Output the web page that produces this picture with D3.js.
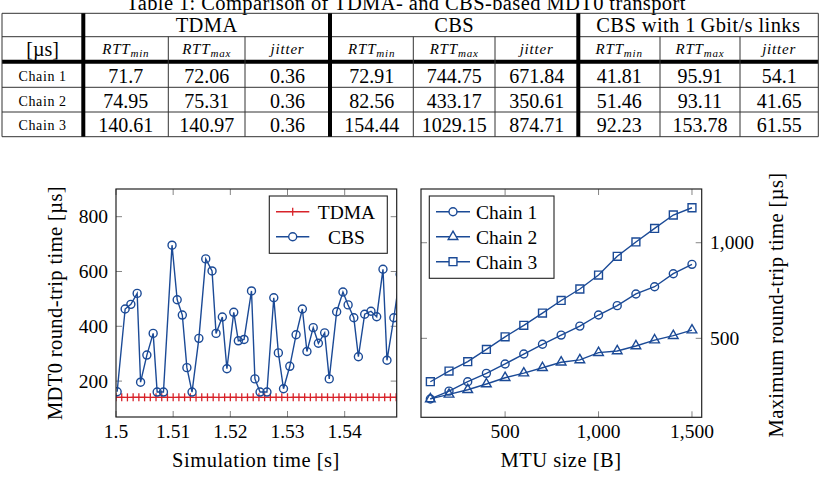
<!DOCTYPE html>
<html>
<head>
<meta charset="utf-8">
<script src="https://cdn.jsdelivr.net/npm/d3@7"></script>
<style>
  body { margin: 0; background: #fff; }
  svg { display: block; font-family: "Liberation Serif", "DejaVu Serif", serif; }
</style>
</head>
<body>
<script>
/* global d3 */
// table data
var tableTitle = "Table 1: Comparison of TDMA- and CBS-based MDT0 transport";
var tableGroups = ["TDMA", "CBS", "CBS with 1\u2009Gbit/s links"];
var tableMetrics = [["RTT", "min"], ["RTT", "max"], ["jitter", ""]];
var tableRows = ["Chain 1", "Chain 2", "Chain 3"];
var tdmaCells = [["71.7", "72.06", "0.36"], ["74.95", "75.31", "0.36"], ["140.61", "140.97", "0.36"]];
var cbsCells = [["72.91", "744.75", "671.84"], ["82.56", "433.17", "350.61"], ["154.44", "1029.15", "874.71"]];
var gbitCells = [["41.81", "95.91", "54.1"], ["51.46", "93.11", "41.65"], ["92.23", "153.78", "61.55"]];

// left plot: RTT over simulation time
var tdmaTime = [1.500, 1.501, 1.502, 1.503, 1.504, 1.505, 1.506, 1.507, 1.508, 1.509,
  1.510, 1.511, 1.512, 1.513, 1.514, 1.515, 1.516, 1.517, 1.518, 1.519,
  1.520, 1.521, 1.522, 1.523, 1.524, 1.525, 1.526, 1.527, 1.528, 1.529,
  1.530, 1.531, 1.532, 1.533, 1.534, 1.535, 1.536, 1.537, 1.538, 1.539,
  1.540, 1.541, 1.542, 1.543, 1.544, 1.545, 1.546, 1.547, 1.548, 1.549];
var tdmaRtt = [140.8, 140.9, 140.7, 140.8, 140.9, 140.8, 140.7, 140.8, 140.9, 140.8,
  140.7, 140.8, 140.9, 140.8, 140.6, 140.8, 140.9, 140.8, 140.7, 140.8,
  140.9, 140.8, 140.7, 140.8, 140.97, 140.8, 140.7, 140.8, 140.9, 140.8,
  140.7, 140.8, 140.9, 140.8, 140.7, 140.8, 140.9, 140.8, 140.61, 140.8,
  140.9, 140.8, 140.7, 140.8, 140.9, 140.8, 140.7, 140.8, 140.9, 140.8];
var cbsTime = [1.5002, 1.5016, 1.5026, 1.5037, 1.5043, 1.5054, 1.5065, 1.5072, 1.5083, 1.5098,
  1.5107, 1.5116, 1.5124, 1.5133, 1.5145, 1.5157, 1.5168, 1.5175, 1.5186, 1.5194,
  1.5206, 1.5214, 1.5224, 1.5237, 1.5243, 1.5252, 1.5264, 1.5276, 1.5284, 1.5293,
  1.5304, 1.5315, 1.5326, 1.5334, 1.5345, 1.5354, 1.5365, 1.5373, 1.5386, 1.5397,
  1.5406, 1.5416, 1.5424, 1.5435, 1.5446, 1.5456, 1.5467, 1.5474, 1.5486, 1.5497];
var cbsRtt = [161, 463, 480, 520, 196, 295, 374, 160, 160, 696,
  497, 441, 249, 160, 356, 646, 602, 374, 434, 245,
  451, 347, 352, 529, 208, 160, 160, 504, 303, 172,
  254, 369, 463, 308, 395, 338, 376, 208, 453, 525,
  478, 431, 289, 444, 455, 435, 608, 276, 431, 590];
var timeTicks = [1.5, 1.51, 1.52, 1.53, 1.54];
var rttTicks = [200, 400, 600, 800];

// right plot: max RTT over MTU size
var mtuSize = [100, 200, 300, 400, 500, 600, 700, 800, 900, 1000, 1100, 1200, 1300, 1400, 1500];
var chain1 = [183, 224, 273, 317, 366, 418, 469, 517, 564, 622, 671, 732, 770, 838, 887];
var chain2 = [183, 207, 231, 261, 294, 318, 346, 375, 387, 425, 434, 460, 491, 514, 543];
var chain3 = [273, 329, 378, 442, 508, 568, 632, 698, 758, 831, 929, 1004, 1075, 1145, 1183];
var mtuTicks = [500, 1000, 1500];
var maxTicks = [500, 1000];

var width = 820, height = 478;
var blue = "#1b4a96", red = "#d8232a";
var tickFont = "19.5px";

var svg = d3.select("body").append("svg")
  .attr("width", width)
  .attr("height", height);

// ---------- table ----------
var tbl = svg.append("g");
var colX = [2, 83.3, 168.3, 245, 330, 413.3, 495, 578.3, 660, 740, 818.3];
var rowY = [13.3, 36.7, 61.7, 87.3, 112, 136.7];

tbl.append("text")
  .attr("x", 406).attr("y", 10)
  .attr("text-anchor", "middle")
  .style("font-size", "20.5px")
  .style("letter-spacing", "0.4px")
  .text(tableTitle);

// thin horizontal lines
[rowY[0], rowY[1], rowY[3], rowY[4], rowY[5]].forEach(function(y) {
  tbl.append("line").attr("x1", colX[0]).attr("x2", colX[10])
    .attr("y1", y).attr("y2", y)
    .attr("stroke", "#333").attr("stroke-width", 1);
});
// thick line under header
tbl.append("line").attr("x1", colX[0]).attr("x2", colX[10])
  .attr("y1", rowY[2]).attr("y2", rowY[2])
  .attr("stroke", "#000").attr("stroke-width", 4);

// vertical lines
colX.forEach(function(x, i) {
  var thick = (i == 1 || i == 4 || i == 7);
  var outer = (i == 0 || i == 10);
  tbl.append("line")
    .attr("x1", x).attr("x2", x)
    .attr("y1", (thick || outer) ? rowY[0] : rowY[1])
    .attr("y2", rowY[5])
    .attr("stroke", thick ? "#000" : "#333")
    .attr("stroke-width", thick ? 4 : 1);
});

// group headers
tableGroups.forEach(function(g, i) {
  tbl.append("text")
    .attr("x", (colX[1 + i * 3] + colX[4 + i * 3]) / 2)
    .attr("y", 32)
    .attr("text-anchor", "middle")
    .style("font-size", "20.5px")
    .style("letter-spacing", "0.4px")
    .text(g);
});

tbl.append("text")
  .attr("x", (colX[0] + colX[1]) / 2).attr("y", 56)
  .attr("text-anchor", "middle")
  .style("font-size", "20px")
  .text("[\u00b5s]");

for (var g = 0; g < 3; g++) {
  tableMetrics.forEach(function(m, j) {
    var t = tbl.append("text")
      .attr("x", (colX[1 + g * 3 + j] + colX[2 + g * 3 + j]) / 2)
      .attr("y", 54)
      .attr("text-anchor", "middle")
      .style("font-size", "15px")
      .style("letter-spacing", "0.8px")
      .style("font-style", "italic");
    t.append("tspan").text(m[0]);
    if (m[1]) {
      t.append("tspan").attr("dy", 3).style("font-size", "11px").text(m[1]);
    }
  });
}

var allCells = [tdmaCells, cbsCells, gbitCells];
tableRows.forEach(function(r, i) {
  var cy = (rowY[2 + i] + rowY[3 + i]) / 2 + 1;
  tbl.append("text")
    .attr("x", (colX[0] + colX[1]) / 2).attr("y", cy + 5)
    .attr("text-anchor", "middle")
    .style("font-size", "14px")
    .style("letter-spacing", "0.6px")
    .text(r);
  allCells.forEach(function(cells, g) {
    cells[i].forEach(function(v, j) {
      tbl.append("text")
        .attr("x", (colX[1 + g * 3 + j] + colX[2 + g * 3 + j]) / 2)
        .attr("y", cy + 7)
        .attr("text-anchor", "middle")
        .style("font-size", "20px")
        .text(v);
    });
  });
});

// ---------- helpers ----------
function frame(g, x0, x1, y0, y1) {
  g.append("rect")
    .attr("x", x0).attr("y", y1)
    .attr("width", x1 - x0).attr("height", y0 - y1)
    .attr("fill", "none").attr("stroke", "#222").attr("stroke-width", 1.2);
}

function ticksX(g, xs, ticks, y0, y1) {
  ticks.forEach(function(t) {
    g.append("line").attr("x1", xs(t)).attr("x2", xs(t)).attr("y1", y0).attr("y2", y0 - 6)
      .attr("stroke", "#777").attr("stroke-width", 0.9);
    g.append("line").attr("x1", xs(t)).attr("x2", xs(t)).attr("y1", y1).attr("y2", y1 + 6)
      .attr("stroke", "#777").attr("stroke-width", 0.9);
  });
}

function ticksY(g, ys, ticks, x0, x1) {
  ticks.forEach(function(t) {
    g.append("line").attr("x1", x0).attr("x2", x0 + 6).attr("y1", ys(t)).attr("y2", ys(t))
      .attr("stroke", "#777").attr("stroke-width", 0.9);
    g.append("line").attr("x1", x1).attr("x2", x1 - 6).attr("y1", ys(t)).attr("y2", ys(t))
      .attr("stroke", "#777").attr("stroke-width", 0.9);
  });
}

// ---------- left chart ----------
var L = svg.append("g");
var lx = d3.scaleLinear().domain([1.5, 1.5491]).range([116, 396.7]);
var ly = d3.scaleLinear().domain([69, 901]).range([417, 189]);

svg.append("clipPath").attr("id", "clipL")
  .append("rect").attr("x", 116).attr("y", 189).attr("width", 280.7).attr("height", 228);

ticksX(L, lx, timeTicks, 417, 189);
ticksY(L, ly, rttTicks, 116, 396.7);

var lineL = d3.line().x(function(d) { return lx(d[0]); }).y(function(d) { return ly(d[1]); });
var tdmaData = d3.zip(tdmaTime, tdmaRtt);
var cbsData = d3.zip(cbsTime, cbsRtt);

var plotL = L.append("g").attr("clip-path", "url(#clipL)");
plotL.append("path").datum(tdmaData).attr("d", lineL)
  .attr("fill", "none").attr("stroke", red).attr("stroke-width", 1.4);
plotL.selectAll(".plus").data(tdmaData).enter().append("line")
  .attr("x1", function(d) { return lx(d[0]); }).attr("x2", function(d) { return lx(d[0]); })
  .attr("y1", function(d) { return ly(d[1]) - 4; }).attr("y2", function(d) { return ly(d[1]) + 4; })
  .attr("stroke", red).attr("stroke-width", 1.3);

plotL.append("path").datum(cbsData).attr("d", lineL)
  .attr("fill", "none").attr("stroke", blue).attr("stroke-width", 1.4);
plotL.selectAll(".circ").data(cbsData).enter().append("circle")
  .attr("cx", function(d) { return lx(d[0]); }).attr("cy", function(d) { return ly(d[1]); })
  .attr("r", 4).attr("fill", "none").attr("stroke", blue).attr("stroke-width", 1.4);

frame(L, 116, 396.7, 417, 189);

L.selectAll(".xt").data(timeTicks).enter().append("text")
  .attr("x", function(d) { return lx(d); }).attr("y", 438)
  .attr("text-anchor", "middle").style("font-size", tickFont)
  .text(function(d) { return String(+d.toFixed(2)); });
L.selectAll(".yt").data(rttTicks).enter().append("text")
  .attr("x", 108).attr("y", function(d) { return ly(d) + 6.5; })
  .attr("text-anchor", "end").style("font-size", tickFont)
  .text(function(d) { return d; });

L.append("text").attr("x", 256).attr("y", 467)
  .attr("text-anchor", "middle").style("font-size", "20.5px")
  .style("letter-spacing", "0.5px")
  .text("Simulation time [s]");
L.append("text")
  .attr("transform", "translate(62,303) rotate(-90)")
  .attr("text-anchor", "middle").style("font-size", "20.5px")
  .style("letter-spacing", "0.4px")
  .text("MDT0 round-trip time [\u00b5s]");

// legend left
var legL = L.append("g");
legL.append("rect").attr("x", 269.3).attr("y", 196).attr("width", 118).attr("height", 57.3)
  .attr("fill", "#fff").attr("stroke", "#222").attr("stroke-width", 1.1);
legL.append("line").attr("x1", 276).attr("x2", 309.3).attr("y1", 211.7).attr("y2", 211.7)
  .attr("stroke", red).attr("stroke-width", 1.4);
legL.append("line").attr("x1", 292.7).attr("x2", 292.7).attr("y1", 207.7).attr("y2", 215.7)
  .attr("stroke", red).attr("stroke-width", 1.3);
legL.append("line").attr("x1", 276).attr("x2", 309.3).attr("y1", 236.7).attr("y2", 236.7)
  .attr("stroke", blue).attr("stroke-width", 1.4);
legL.append("circle").attr("cx", 292.7).attr("cy", 236.7).attr("r", 4)
  .attr("fill", "#fff").attr("stroke", blue).attr("stroke-width", 1.4);
legL.append("text").attr("x", 346.5).attr("y", 218.5).attr("text-anchor", "middle")
  .style("font-size", "19.5px").text("TDMA");
legL.append("text").attr("x", 346.5).attr("y", 243.5).attr("text-anchor", "middle")
  .style("font-size", "19.5px").text("CBS");

// ---------- right chart ----------
var R = svg.append("g");
var rx = d3.scaleLinear().domain([50, 1552]).range([421, 701.7]);
var ry = d3.scaleLinear().domain([87, 1281]).range([417.3, 189]);

ticksX(R, rx, mtuTicks, 417.3, 189);
ticksY(R, ry, maxTicks, 421, 701.7);

var lineR = d3.line().x(function(d) { return rx(d[0]); }).y(function(d) { return ry(d[1]); });
var series = [
  { name: "Chain 1", data: d3.zip(mtuSize, chain1), mark: d3.symbolCircle },
  { name: "Chain 2", data: d3.zip(mtuSize, chain2), mark: d3.symbolTriangle },
  { name: "Chain 3", data: d3.zip(mtuSize, chain3), mark: d3.symbolSquare }
];
var markSize = { "Chain 1": 50, "Chain 2": 40, "Chain 3": 62 };

series.forEach(function(s) {
  R.append("path").datum(s.data).attr("d", lineR)
    .attr("fill", "none").attr("stroke", blue).attr("stroke-width", 1.4);
  R.selectAll(null).data(s.data).enter().append("path")
    .attr("d", d3.symbol().type(s.mark).size(markSize[s.name]))
    .attr("transform", function(d) { return "translate(" + rx(d[0]) + "," + ry(d[1]) + ")"; })
    .attr("fill", "none").attr("stroke", blue).attr("stroke-width", 1.4);
});

frame(R, 421, 701.7, 417.3, 189);

R.selectAll(".xt").data(mtuTicks).enter().append("text")
  .attr("x", function(d) { return rx(d); }).attr("y", 438)
  .attr("text-anchor", "middle").style("font-size", tickFont)
  .text(function(d) { return d3.format(",")(d); });
R.selectAll(".yt").data(maxTicks).enter().append("text")
  .attr("x", 710).attr("y", function(d) { return ry(d) + 6.5; })
  .attr("text-anchor", "start").style("font-size", tickFont)
  .text(function(d) { return d3.format(",")(d); });

R.append("text").attr("x", 561).attr("y", 467)
  .attr("text-anchor", "middle").style("font-size", "20.5px")
  .style("letter-spacing", "0.5px")
  .text("MTU size [B]");
R.append("text")
  .attr("transform", "translate(783,305) rotate(-90)")
  .attr("text-anchor", "middle").style("font-size", "20.5px")
  .style("letter-spacing", "0.4px")
  .text("Maximum round-trip time [\u00b5s]");

// legend right
var legR = R.append("g");
legR.append("rect").attr("x", 429.3).attr("y", 196).attr("width", 124.7).attr("height", 82.3)
  .attr("fill", "#fff").attr("stroke", "#222").attr("stroke-width", 1.1);
series.forEach(function(s, i) {
  var yy = 211.7 + i * 25;
  legR.append("line").attr("x1", 436).attr("x2", 470).attr("y1", yy).attr("y2", yy)
    .attr("stroke", blue).attr("stroke-width", 1.4);
  legR.append("path")
    .attr("d", d3.symbol().type(s.mark).size(markSize[s.name]))
    .attr("transform", "translate(453," + yy + ")")
    .attr("fill", "#fff").attr("stroke", blue).attr("stroke-width", 1.4);
  legR.append("text").attr("x", 476).attr("y", yy + 6.8)
    .style("font-size", "19.5px").text(s.name);
});
</script>
</body>
</html>
